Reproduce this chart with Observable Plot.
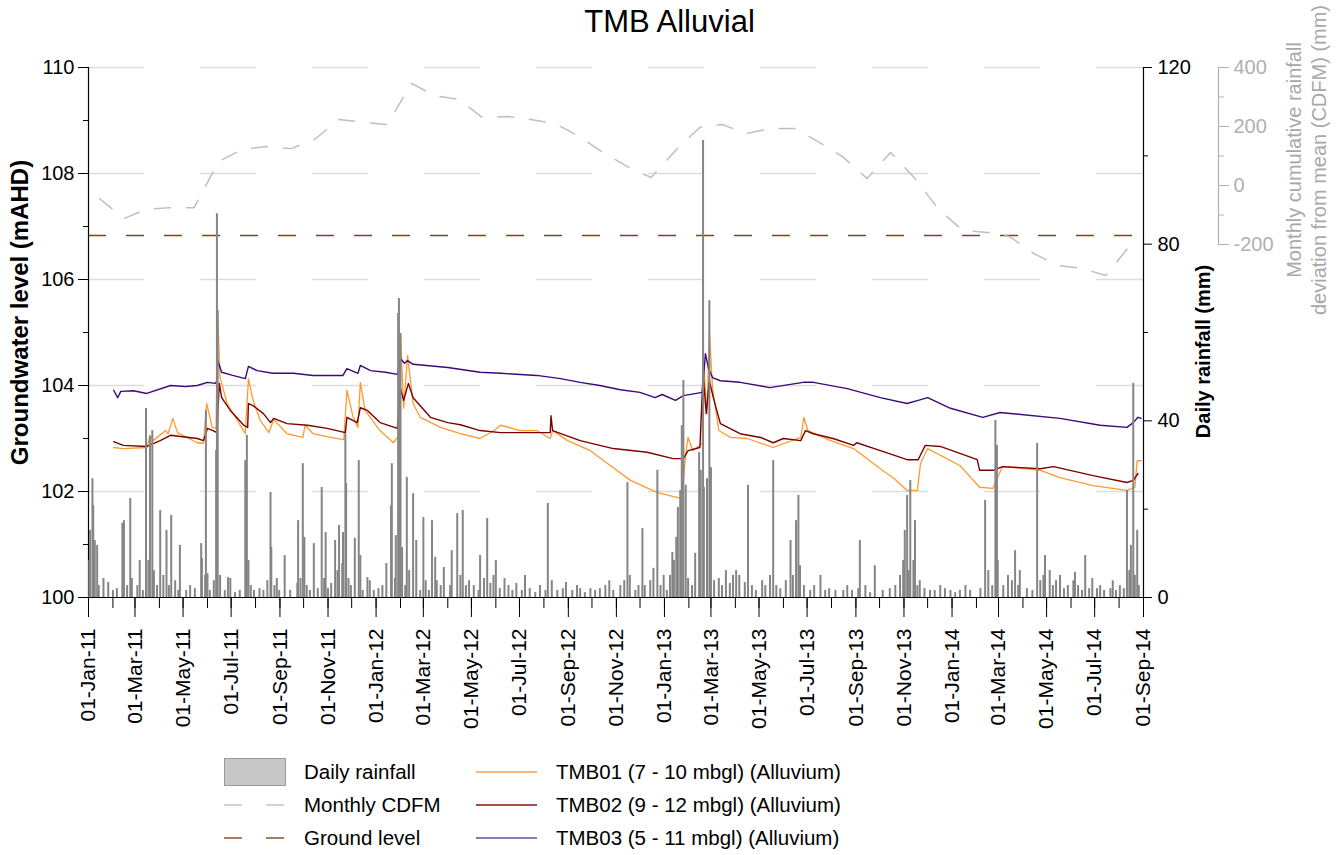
<!DOCTYPE html>
<html><head><meta charset="utf-8">
<script src="https://cdn.jsdelivr.net/npm/d3@7"></script>
<script src="https://cdn.jsdelivr.net/npm/@observablehq/plot@0.6"></script>
<style>
html,body{margin:0;padding:0;background:#fff;overflow:hidden;}
#wrap{position:relative;width:1339px;height:855px;font-family:"Liberation Sans",Arial,sans-serif;color:#000;}
#chart{position:absolute;left:0;top:0;width:1339px;height:745px;}
#chart svg{position:absolute;left:0;top:0;}
#title{position:absolute;left:0;top:5px;width:1339px;text-align:center;font-size:31px;line-height:34px;}
.lg{position:absolute;font-size:20.5px;line-height:24px;white-space:nowrap;}
.sw{position:absolute;}
</style></head><body>
<div id="wrap"><div id="title">TMB Alluvial</div><div id="chart"></div><div id="legend"></div></div>
<script>
// ---------------- data ----------------
const xStart = "2011-01-01", xEnd = "2014-09-01";
const gridLevels = [102, 104, 106, 108, 110];
const groundLevel = 106.83;
const gwTicks = [100, 102, 104, 106, 108, 110];
const gwMinor = [101, 103, 105, 107, 109];
const rainTicks = [0, 40, 80, 120];
const rainMinor = [20, 60, 100];
const cdfmTicks = [-200, 0, 200, 400];
const cdfmMinor = [-100, 100, 300];

// TMB01 (7 - 10 mbgl) groundwater level, mAHD
const tmb01 = [["2011-02-02",102.83],["2011-02-14",102.81],["2011-03-16",102.83],["2011-03-20",103.06],["2011-03-24",102.96],["2011-04-09",103.15],["2011-04-12",103.09],["2011-04-18",103.38],["2011-04-24",103.11],["2011-05-19",102.92],["2011-05-27",102.91],["2011-05-31",103.66],["2011-06-07",103.21],["2011-06-12",103.19],["2011-06-14",105.32],["2011-06-17",104.15],["2011-06-26",103.66],["2011-07-09",103.34],["2011-07-19",103.09],["2011-07-23",104.13],["2011-07-28",103.77],["2011-08-07",103.34],["2011-08-18",103.11],["2011-08-24",103.36],["2011-09-10",103.09],["2011-09-30",103.02],["2011-10-03",103.25],["2011-10-13",103.09],["2011-11-04",103.02],["2011-11-21",102.98],["2011-11-25",103.91],["2011-12-03",103.40],["2011-12-09",103.21],["2011-12-12",104.06],["2011-12-18",103.53],["2012-01-06",103.15],["2012-01-23",102.92],["2012-01-30",103.06],["2012-02-01",104.98],["2012-02-05",103.57],["2012-02-10",104.57],["2012-02-17",103.66],["2012-02-26",103.40],["2012-03-23",103.21],["2012-04-17",103.09],["2012-05-12",103.00],["2012-05-30",103.15],["2012-06-07",103.25],["2012-07-02",103.15],["2012-07-23",103.15],["2012-08-09",103.00],["2012-08-12",103.15],["2012-08-31",102.96],["2012-09-29",102.77],["2012-10-28",102.45],["2012-11-19",102.21],["2012-12-23",101.98],["2013-01-22",101.87],["2013-01-25",102.21],["2013-01-28",102.72],["2013-01-31",103.02],["2013-02-06",102.77],["2013-02-18",102.91],["2013-02-19",104.53],["2013-02-24",103.47],["2013-02-27",105.00],["2013-03-03",103.96],["2013-03-11",103.15],["2013-03-26",103.02],["2013-04-16",103.00],["2013-05-19",102.83],["2013-06-23",103.02],["2013-06-27",103.40],["2013-07-02",103.15],["2013-07-31",102.96],["2013-08-29",102.81],["2013-10-02",102.43],["2013-10-19",102.25],["2013-11-05",102.02],["2013-11-18",102.02],["2013-11-22",102.53],["2013-12-01",102.81],["2014-01-11",102.49],["2014-02-05",102.08],["2014-02-22",102.06],["2014-03-06",102.47],["2014-04-23",102.40],["2014-05-18",102.26],["2014-06-29",102.11],["2014-08-11",102.02],["2014-08-21",102.08],["2014-08-24",102.58],["2014-08-29",102.58]];

// TMB02 (9 - 12 mbgl)
const tmb02 = [["2011-02-02",102.94],["2011-02-14",102.87],["2011-03-16",102.85],["2011-04-02",102.96],["2011-04-15",103.06],["2011-05-19",103.00],["2011-05-27",102.96],["2011-06-01",103.19],["2011-06-08",103.15],["2011-06-13",103.11],["2011-06-16",104.04],["2011-06-19",103.77],["2011-06-30",103.53],["2011-07-17",103.25],["2011-07-22",103.21],["2011-07-23",103.66],["2011-07-29",103.62],["2011-08-11",103.47],["2011-08-20",103.30],["2011-08-24",103.38],["2011-09-10",103.28],["2011-10-06",103.25],["2011-10-31",103.19],["2011-11-23",103.11],["2011-11-25",103.40],["2011-12-08",103.30],["2011-12-12",103.58],["2011-12-21",103.53],["2012-01-06",103.30],["2012-01-28",103.19],["2012-02-01",103.94],["2012-02-05",103.72],["2012-02-11",104.04],["2012-02-17",103.77],["2012-03-10",103.40],["2012-04-01",103.30],["2012-04-17",103.26],["2012-05-12",103.15],["2012-06-07",103.11],["2012-07-23",103.11],["2012-08-09",103.11],["2012-08-10",103.43],["2012-08-12",103.15],["2012-09-16",102.96],["2012-10-28",102.81],["2012-12-10",102.74],["2013-01-12",102.62],["2013-01-25",102.62],["2013-01-31",102.77],["2013-02-15",102.83],["2013-02-19",104.23],["2013-02-23",103.47],["2013-02-27",104.09],["2013-03-04",103.77],["2013-03-13",103.28],["2013-04-07",103.09],["2013-05-03",103.02],["2013-05-19",102.92],["2013-06-01",103.00],["2013-06-23",102.96],["2013-06-29",103.15],["2013-07-09",103.09],["2013-08-03",103.00],["2013-08-29",102.87],["2013-09-02",102.92],["2013-10-02",102.77],["2013-11-05",102.60],["2013-11-19",102.60],["2013-11-28",102.87],["2013-12-17",102.85],["2014-01-11",102.72],["2014-02-02",102.60],["2014-02-05",102.40],["2014-02-22",102.40],["2014-03-06",102.47],["2014-04-23",102.43],["2014-05-10",102.47],["2014-06-29",102.30],["2014-08-11",102.17],["2014-08-19",102.21],["2014-08-25",102.34]];

// TMB03 (5 - 11 mbgl)
const tmb03 = [["2011-02-02",103.91],["2011-02-07",103.77],["2011-02-11",103.89],["2011-02-27",103.90],["2011-03-16",103.85],["2011-04-15",104.00],["2011-05-04",103.98],["2011-05-19",104.00],["2011-06-01",104.06],["2011-06-11",104.04],["2011-06-13",104.08],["2011-06-14",104.47],["2011-06-19",104.25],["2011-07-03",104.19],["2011-07-19",104.13],["2011-07-23",104.36],["2011-08-03",104.28],["2011-08-23",104.23],["2011-09-18",104.23],["2011-10-13",104.19],["2011-11-04",104.19],["2011-11-20",104.19],["2011-11-25",104.32],["2011-12-09",104.23],["2011-12-12",104.38],["2011-12-25",104.28],["2012-01-13",104.25],["2012-01-28",104.21],["2012-02-01",104.51],["2012-02-06",104.42],["2012-02-10",104.47],["2012-02-17",104.40],["2012-04-01",104.34],["2012-05-12",104.25],["2012-06-07",104.23],["2012-07-23",104.19],["2012-08-22",104.13],["2012-09-16",104.06],["2012-10-11",104.00],["2012-11-06",103.92],["2012-12-01",103.87],["2012-12-20",103.77],["2012-12-29",103.83],["2013-01-15",103.72],["2013-01-25",103.81],["2013-02-18",103.87],["2013-02-22",104.60],["2013-02-26",104.32],["2013-03-03",104.15],["2013-03-13",104.09],["2013-04-07",104.06],["2013-05-15",103.96],["2013-06-26",104.06],["2013-07-09",104.06],["2013-08-21",103.94],["2013-10-02",103.77],["2013-11-05",103.66],["2013-11-19",103.72],["2013-12-01",103.77],["2013-12-30",103.57],["2014-02-09",103.40],["2014-03-03",103.49],["2014-05-18",103.38],["2014-07-08",103.25],["2014-08-11",103.21],["2014-08-19",103.30],["2014-08-25",103.40],["2014-08-29",103.38]];

// Monthly cumulative rainfall deviation from mean (mm)
const cdfm = [["2011-01-15",-44],["2011-02-15",-112],["2011-03-15",-81],["2011-04-15",-75],["2011-05-15",-75],["2011-06-15",81],["2011-07-15",122],["2011-08-15",132],["2011-09-15",125],["2011-10-15",156],["2011-11-15",224],["2011-12-15",214],["2012-01-15",207],["2012-02-15",346],["2012-03-15",305],["2012-04-15",292],["2012-05-15",230],["2012-06-15",234],["2012-07-15",224],["2012-08-15",210],["2012-09-15",166],["2012-10-15",112],["2012-11-15",64],["2012-12-15",27],["2013-01-15",119],["2013-02-15",197],["2013-03-15",207],["2013-04-15",176],["2013-05-15",193],["2013-06-15",193],["2013-07-15",149],["2013-08-15",98],["2013-09-15",24],["2013-10-15",112],["2013-11-15",24],["2013-12-15",-81],["2014-01-15",-153],["2014-02-15",-159],["2014-03-15",-173],["2014-04-15",-231],["2014-05-15",-271],["2014-06-15",-281],["2014-07-15",-305],["2014-08-15",-203]];

// Daily rainfall (mm)
const rain = [
["2011-01-02",8.4],["2011-01-03",15.2],["2011-01-06",26.9],["2011-01-07",20.8],["2011-01-09",12.9],["2011-01-12",11.8],["2011-01-14",2.7],["2011-01-20",4.3],["2011-01-26",3.4],
["2011-02-01",1.6],["2011-02-06",2.0],["2011-02-13",16.8],["2011-02-15",17.4],["2011-02-19",2.7],["2011-02-23",22.4],["2011-02-25",4.3],
["2011-03-04",2.7],["2011-03-07",8.4],["2011-03-11",1.6],["2011-03-15",42.8],["2011-03-18",8.4],["2011-03-20",36.5],["2011-03-23",37.8],["2011-03-25",6.1],["2011-03-29",2.7],
["2011-04-02",19.7],["2011-04-06",5.0],["2011-04-10",15.2],["2011-04-13",2.7],["2011-04-16",18.6],["2011-04-21",3.8],["2011-04-25",1.6],["2011-04-27",11.8],
["2011-05-05",1.6],["2011-05-10",2.7],["2011-05-16",2.0],["2011-05-24",12.2],["2011-05-25",8.8],["2011-05-29",5.0],["2011-05-30",42.3],
["2011-06-01",5.4],["2011-06-04",1.6],["2011-06-09",3.8],["2011-06-12",33.3],["2011-06-13",86.9],["2011-06-14",65.0],["2011-06-17",5.0],["2011-06-23",1.6],["2011-06-27",4.5],["2011-06-30",4.3],
["2011-07-06",1.1],["2011-07-12",1.6],["2011-07-19",31.0],["2011-07-21",36.7],["2011-07-23",8.4],["2011-07-26",2.7],["2011-07-30",1.6],
["2011-08-06",2.0],["2011-08-11",1.6],["2011-08-16",3.8],["2011-08-20",23.8],["2011-08-21",11.3],["2011-08-25",2.7],["2011-08-28",4.3],["2011-08-31",1.6],
["2011-09-07",9.5],["2011-09-14",1.6],["2011-09-23",3.2],["2011-09-24",17.4],["2011-09-27",4.3],["2011-09-30",30.3],
["2011-10-02",13.6],["2011-10-05",2.7],["2011-10-09",1.6],["2011-10-14",12.2],["2011-10-19",2.0],["2011-10-24",24.9],["2011-10-27",4.3],["2011-10-29",14.7],
["2011-11-01",2.0],["2011-11-05",3.2],["2011-11-10",12.9],["2011-11-13",6.1],["2011-11-15",16.3],["2011-11-19",7.7],["2011-11-20",14.7],["2011-11-23",37.1],["2011-11-24",25.8],["2011-11-27",4.3],["2011-11-30",2.7],
["2011-12-05",13.4],["2011-12-10",31.0],["2011-12-12",9.5],["2011-12-15",1.6],["2011-12-21",4.5],["2011-12-24",3.8],["2011-12-29",1.6],
["2012-01-04",2.0],["2012-01-09",2.7],["2012-01-14",7.7],["2012-01-20",20.8],["2012-01-21",30.3],["2012-01-25",4.3],["2012-01-26",14.0],["2012-01-29",64.3],["2012-01-30",67.7],
["2012-02-01",59.8],["2012-02-03",11.3],["2012-02-07",2.7],["2012-02-09",27.2],["2012-02-12",6.1],["2012-02-17",23.5],["2012-02-21",12.9],["2012-02-26",1.6],
["2012-03-01",18.1],["2012-03-04",3.8],["2012-03-08",1.6],["2012-03-12",17.4],["2012-03-16",9.1],["2012-03-18",3.8],["2012-03-23",2.7],["2012-03-27",6.8],
["2012-04-04",2.7],["2012-04-06",10.6],["2012-04-13",19.0],["2012-04-17",5.0],["2012-04-20",19.7],["2012-04-24",2.7],["2012-04-28",3.8],
["2012-05-04",2.7],["2012-05-10",1.6],["2012-05-12",9.5],["2012-05-17",4.3],["2012-05-21",17.9],["2012-05-25",3.2],["2012-05-29",5.0],
["2012-06-01",8.4],["2012-06-06",2.0],["2012-06-12",4.3],["2012-06-17",2.7],["2012-06-22",1.6],["2012-06-27",3.2],
["2012-07-04",1.6],["2012-07-08",5.0],["2012-07-14",2.0],["2012-07-21",1.1],["2012-07-27",2.7],
["2012-08-03",1.6],["2012-08-06",21.3],["2012-08-11",3.8],["2012-08-18",1.6],["2012-08-25",2.0],["2012-08-29",3.4],
["2012-09-06",1.6],["2012-09-12",2.7],["2012-09-16",2.0],["2012-09-22",1.1],["2012-09-29",2.0],
["2012-10-05",1.6],["2012-10-11",2.0],["2012-10-18",2.7],["2012-10-23",3.8],["2012-10-28",1.6],
["2012-11-06",2.7],["2012-11-11",3.8],["2012-11-15",26.0],["2012-11-18",5.0],["2012-11-25",1.6],["2012-11-29",2.7],
["2012-12-04",15.6],["2012-12-07",2.7],["2012-12-14",3.8],["2012-12-18",6.6],["2012-12-23",28.8],["2012-12-27",2.7],["2012-12-31",5.0],
["2013-01-04",1.6],["2013-01-08",5.0],["2013-01-11",10.2],["2013-01-13",8.4],["2013-01-16",13.6],["2013-01-18",20.4],["2013-01-21",24.2],["2013-01-23",38.9],["2013-01-25",49.1],["2013-01-28",25.4],["2013-01-31",4.3],
["2013-02-05",2.7],["2013-02-09",10.0],["2013-02-14",32.8],["2013-02-16",28.8],["2013-02-19",103.5],["2013-02-20",24.9],["2013-02-24",26.9],["2013-02-27",67.2],
["2013-03-01",29.4],["2013-03-05",3.8],["2013-03-11",4.3],["2013-03-15",2.7],["2013-03-20",6.1],["2013-03-25",3.2],["2013-03-29",5.0],
["2013-04-02",6.1],["2013-04-06",5.0],["2013-04-13",3.4],["2013-04-17",25.4],["2013-04-22",2.7],["2013-04-27",1.6],
["2013-05-05",3.8],["2013-05-09",2.7],["2013-05-15",5.0],["2013-05-19",31.0],["2013-05-23",2.7],["2013-05-28",2.0],
["2013-06-04",3.8],["2013-06-10",12.9],["2013-06-13",5.0],["2013-06-17",17.4],["2013-06-20",23.1],["2013-06-22",7.2],["2013-06-27",2.7],
["2013-07-05",1.6],["2013-07-10",2.7],["2013-07-18",5.0],["2013-07-24",1.6],["2013-07-29",2.0],
["2013-08-06",1.6],["2013-08-16",1.6],["2013-08-21",2.7],["2013-08-27",1.6],
["2013-09-04",2.0],["2013-09-06",12.9],["2013-09-13",2.7],["2013-09-19",1.1],["2013-09-25",7.2],
["2013-10-05",1.6],["2013-10-14",2.0],["2013-10-21",2.7],["2013-10-27",5.0],["2013-10-31",8.4],
["2013-11-02",15.2],["2013-11-05",23.1],["2013-11-07",6.1],["2013-11-09",26.5],["2013-11-13",8.4],["2013-11-15",17.4],["2013-11-18",2.7],["2013-11-21",3.8],["2013-11-27",2.0],
["2013-12-04",1.6],["2013-12-10",1.6],["2013-12-17",2.7],["2013-12-23",2.0],["2013-12-30",1.6],
["2014-01-05",1.1],["2014-01-11",1.6],["2014-01-18",2.7],["2014-01-24",1.6],
["2014-02-06",2.0],["2014-02-12",22.0],["2014-02-16",6.1],["2014-02-21",2.7],["2014-02-25",40.1],["2014-02-27",34.4],["2014-02-28",8.4],
["2014-03-07",2.7],["2014-03-13",5.0],["2014-03-18",3.8],["2014-03-22",10.6],["2014-03-26",2.7],["2014-03-28",6.1],
["2014-04-06",2.0],["2014-04-13",1.6],["2014-04-19",34.9],["2014-04-23",3.8],["2014-04-27",5.0],["2014-04-29",9.5],
["2014-05-05",6.1],["2014-05-09",2.7],["2014-05-13",3.8],["2014-05-18",5.0],["2014-05-23",2.0],["2014-05-28",2.7],
["2014-06-04",3.8],["2014-06-06",5.7],["2014-06-10",2.7],["2014-06-15",1.6],["2014-06-19",9.5],["2014-06-24",2.0],["2014-06-28",4.3],
["2014-07-04",2.0],["2014-07-08",2.7],["2014-07-13",1.6],["2014-07-21",2.0],["2014-07-24",3.8],["2014-07-28",1.6],
["2014-08-02",2.7],["2014-08-07",2.0],["2014-08-11",24.2],["2014-08-14",6.1],["2014-08-16",11.8],["2014-08-19",48.5],["2014-08-21",5.0],["2014-08-24",15.2],["2014-08-26",2.7]
];

const seriesNames = ["TMB01 (7 - 10 mbgl) (Alluvium)", "TMB02 (9 - 12 mbgl) (Alluvium)", "TMB03 (5 - 11 mbgl) (Alluvium)"];
const colors = {tmb01: "#ff9a30", tmb02: "#7c0000", tmb03: "#3a0a78", rain: "#858585", cdfm: "#bfbfbf", ground: "#7a4614", grid: "#dcdcdc", cdfmAxis: "#b0b0b0"};

// ---------------- layout ----------------
const W = 1339, H = 745;
const L = 88, R = 1143, T = 67, B = 597, CDFM_X = 1218, CDFM_B = 244;
const xDomain = [new Date(xStart), new Date(xEnd)];
const baseStyle = {fontFamily: "'Liberation Sans', Arial, sans-serif", fontSize: "20px", color: "#000", background: "transparent", overflow: "visible"};
const dt = d => new Date(d[0]);
const val = d => d[1];
const fmtNum = d => String(d);

const main = Plot.plot({
  width: W, height: H, marginLeft: L, marginRight: W - R, marginTop: T, marginBottom: H - B,
  style: baseStyle,
  x: {type: "utc", domain: xDomain},
  y: {domain: [100, 110]},
  marks: [
    Plot.ruleY(gridLevels, {stroke: colors.grid, strokeWidth: 1.3, strokeDasharray: "56,56"}),
    Plot.ruleY([groundLevel], {stroke: colors.ground, strokeWidth: 1.6, strokeDasharray: "18,20"}),
    Plot.line(tmb01, {x: dt, y: val, stroke: colors.tmb01, strokeWidth: 1.3}),
    Plot.line(tmb02, {x: dt, y: val, stroke: colors.tmb02, strokeWidth: 1.4}),
    Plot.line(tmb03, {x: dt, y: val, stroke: colors.tmb03, strokeWidth: 1.4}),
    Plot.ruleX([xDomain[0]], {stroke: "#000", strokeWidth: 1.2}),
    Plot.ruleY([100], {stroke: "#000", strokeWidth: 1.2}),
    Plot.axisY({ticks: gwTicks, tickSize: 10, tickPadding: 4, tickFormat: fmtNum, label: null}),
    Plot.axisY({ticks: gwMinor, tickSize: 5, tickFormat: () => "", label: null}),
    Plot.axisX({ticks: d3.utcMonth.every(2), tickSize: 20, tickPadding: 11, tickRotate: -90, tickFormat: d3.utcFormat("%d-%b-%y"), fontSize: 21, label: null}),
    Plot.axisX({ticks: d3.utcMonth.every(1), tickSize: 11, tickFormat: () => "", label: null}),
    Plot.text(["Groundwater level (mAHD)"], {text: d => d, frameAnchor: "left", textAnchor: "middle", dx: -68, dy: -20, rotate: -90, fontWeight: "bold", fontSize: 24})
  ]
});

const rainPlot = Plot.plot({
  width: W, height: H, marginLeft: L, marginRight: W - R, marginTop: T, marginBottom: H - B,
  style: baseStyle,
  x: {type: "utc", domain: xDomain, axis: null},
  y: {domain: [0, 120]},
  marks: [
    Plot.ruleX(rain, {x: dt, y1: 0, y2: val, stroke: colors.rain, strokeWidth: 2}),
    Plot.ruleX([xDomain[1]], {stroke: "#000", strokeWidth: 1.2}),
    Plot.axisY({anchor: "right", ticks: rainTicks, tickSize: 8, tickPadding: 6, tickFormat: fmtNum, label: null}),
    Plot.axisY({anchor: "right", ticks: rainMinor, tickSize: 4, tickFormat: () => "", label: null}),
    Plot.text(["Daily rainfall (mm)"], {text: d => d, frameAnchor: "right", textAnchor: "middle", dx: 60, dy: 19, rotate: -90, fontWeight: "bold", fontSize: 20})
  ]
});

const cdfmPlot = Plot.plot({
  width: W, height: H, marginLeft: L, marginRight: W - CDFM_X, marginTop: T, marginBottom: H - CDFM_B,
  style: baseStyle,
  x: {type: "utc", domain: xDomain, range: [L, R], axis: null},
  y: {domain: [-200, 400]},
  marks: [
    Plot.line(cdfm, {x: dt, y: val, stroke: colors.cdfm, strokeWidth: 1.5, strokeDasharray: "16,16"}),
    Plot.frame({anchor: "right", stroke: colors.cdfmAxis, strokeWidth: 1.2}),
    Plot.axisY({anchor: "right", ticks: cdfmTicks, tickSize: 10, tickPadding: 5, tickFormat: fmtNum, color: colors.cdfmAxis, label: null}),
    Plot.axisY({anchor: "right", ticks: cdfmMinor, tickSize: 5, tickFormat: () => "", color: colors.cdfmAxis, label: null}),
    Plot.text(["Monthly cumulative rainfall\ndeviation from mean (CDFM) (mm)"], {text: d => d, frameAnchor: "right", textAnchor: "middle", dx: 87, dy: 4, rotate: -90, lineHeight: 1.25, fill: "#a8a8a8", fontSize: 20})
  ]
});

const chart = document.getElementById("chart");
chart.append(main, rainPlot, cdfmPlot);

// ---------------- legend ----------------
const legendItems = [
  {kind: "box", label: "Daily rainfall", col: 0, row: 0},
  {kind: "dash", label: "Monthly CDFM", color: "#c4c4c4", col: 0, row: 1},
  {kind: "dash", label: "Ground level", color: "#8a5522", col: 0, row: 2},
  {kind: "line", label: seriesNames[0], color: "#f7a04a", col: 1, row: 0},
  {kind: "line", label: seriesNames[1], color: "#8a1010", col: 1, row: 1},
  {kind: "line", label: seriesNames[2], color: "#6a4aa8", col: 1, row: 2}
];
const legend = document.getElementById("legend");
const symX = [224, 476], txtX = [304, 556], rowY = [772, 805, 838];
for (const it of legendItems) {
  const cy = rowY[it.row];
  const s = document.createElementNS("http://www.w3.org/2000/svg", "svg");
  s.setAttribute("class", "sw");
  s.setAttribute("width", 62); s.setAttribute("height", 30);
  s.style.left = symX[it.col] + "px"; s.style.top = (cy - 15) + "px";
  if (it.kind === "box") {
    s.innerHTML = `<rect x="0.5" y="1.5" width="61" height="27" fill="#c8c8c8" stroke="#9a9a9a" stroke-width="1"/>`;
  } else if (it.kind === "dash") {
    s.innerHTML = `<line x1="0" x2="61" y1="15" y2="15" stroke="${it.color}" stroke-width="1.6" stroke-dasharray="18,24"/>`;
  } else {
    s.innerHTML = `<line x1="0" x2="61" y1="15" y2="15" stroke="${it.color}" stroke-width="1.6"/>`;
  }
  legend.appendChild(s);
  const t = document.createElement("div");
  t.className = "lg";
  t.textContent = it.label;
  t.style.left = txtX[it.col] + "px"; t.style.top = (cy - 12) + "px";
  legend.appendChild(t);
}
</script>
</body></html>
